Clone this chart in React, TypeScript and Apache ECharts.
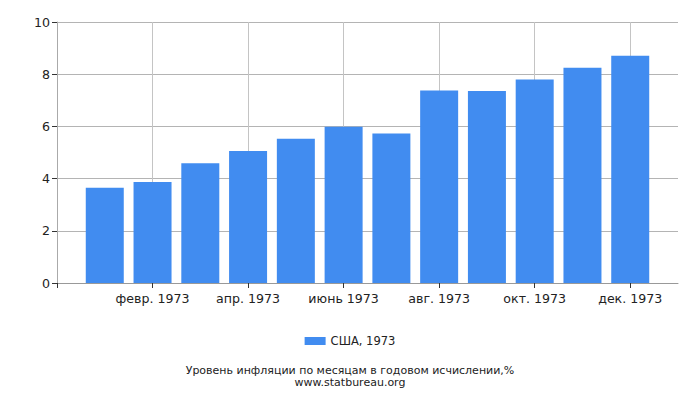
import React, { useEffect, useRef } from "react";
import * as echarts from "echarts";

const months = [
  "янв. 1973",
  "февр. 1973",
  "март 1973",
  "апр. 1973",
  "май 1973",
  "июнь 1973",
  "июль 1973",
  "авг. 1973",
  "сент. 1973",
  "окт. 1973",
  "нояб. 1973",
  "дек. 1973",
];
const inflation = [3.65, 3.87, 4.59, 5.06, 5.53, 5.99, 5.73, 7.38, 7.36, 7.8, 8.25, 8.71];
const seriesName = "США, 1973";
const titleText = "Уровень инфляции по месяцам в годовом исчислении,%";
const sourceText = "www.statbureau.org";

const FONT = "DejaVu Sans";

const App: React.FC = () => {
  const chartRef = useRef<HTMLDivElement>(null);

  useEffect(() => {
    if (!chartRef.current) return;
    const chart = echarts.init(chartRef.current, undefined, { renderer: "svg" });

    const footText = (text: string, y: number) => ({
      type: "text",
      x: 350,
      y,
      style: {
        text,
        fontFamily: FONT,
        fontSize: 11,
        lineHeight: 11,
        fill: "#222",
        align: "center",
        verticalAlign: "middle",
      },
    });

    chart.setOption({
      animation: false,
      textStyle: { fontFamily: FONT },
      grid: { left: 57, right: 22, top: 22, bottom: 117 },
      graphic: [footText(titleText, 370.5), footText(sourceText, 382.5)],
      legend: {
        left: "center",
        top: 330,
        itemWidth: 21,
        itemHeight: 8,
        itemGap: 5,
        icon: "rect",
        textStyle: { fontFamily: FONT, fontSize: 11.5, color: "#222" },
        data: [seriesName],
      },
      xAxis: {
        type: "value",
        min: 0,
        max: 13,
        interval: 2,
        axisLine: { show: true, lineStyle: { color: "#999" } },
        axisTick: {
          show: true,
          length: 5,
          lineStyle: { color: "#333" },
          customValues: [0, 2, 4, 6, 8, 10, 12],
        },
        axisLabel: {
          fontFamily: FONT,
          fontSize: 12.6,
          color: "#222",
          margin: 9,
          formatter: (v: number) => (v >= 2 && v <= 12 && v % 2 === 0 ? months[v - 1] : ""),
        },
        splitLine: { show: true, lineStyle: { color: "#c4c4c4" } },
      },
      yAxis: {
        type: "value",
        min: 0,
        max: 10,
        interval: 2,
        axisLine: { show: true, lineStyle: { color: "#aaa" } },
        axisTick: { show: true, length: 5, lineStyle: { color: "#333" } },
        axisLabel: { fontFamily: FONT, fontSize: 12.6, color: "#222", margin: 7 },
        splitLine: { show: true, lineStyle: { color: "#b4b4b4" } },
      },
      series: [
        {
          name: seriesName,
          type: "bar",
          barWidth: 38,
          itemStyle: { color: "#418CF0" },
          data: inflation.map((v, i) => [i + 1, v]),
        },
      ],
    });

    return () => {
      chart.dispose();
    };
  }, []);

  return (
    <div
      ref={chartRef}
      style={{ position: "fixed", left: 0, top: 0, width: 700, height: 400, background: "#fff" }}
    />
  );
};

export default App;
